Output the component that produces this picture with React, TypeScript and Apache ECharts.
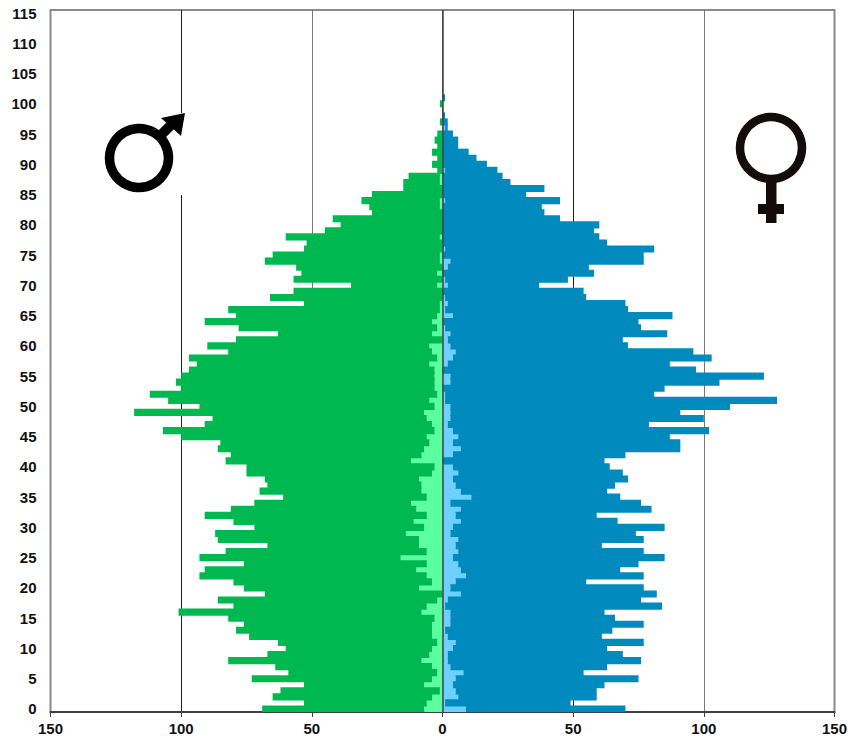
import React, { useEffect, useRef } from "react";
import * as echarts from "echarts";

const ageLabels: string[] = Array.from({ length: 116 }, (_, i) => String(i));
const xTicks = [-150, 150];

const maleTotal = [69,53,65,62,53,73,59,64,82,67,60,63,74,79,76,82,101,80,86,68,76,80,93,91,76,93,83,67,86,87,72,80,91,81,72,61,70,67,68,75,75,83,81,86,85,100,107,91,88,118,93,105,112,100,102,100,97,94,97,82,90,79,63,78,91,79,82,53,66,57,35,57,54,56,68,65,53,52,60,45,39,42,27,28,31,27,15,15,13,2,4,2,4,2,3,2,0,1,0,0,1,0];
const maleForeign = [7,6,4,1,7,4,2,4,8,5,4,2,4,4,4,3,8,6,2,0,9,4,6,10,6,16,6,9,9,14,7,11,6,10,12,6,8,8,9,4,3,12,8,7,5,6,3,4,6,7,3,5,2,3,3,3,3,5,2,4,5,0,4,2,4,2,1,1,0,0,2,0,2,0,1,1,0,0,1,0,0,0,0,1,1,0,0,1,1,0,0,0,0,0,0,0,0,0,0,0,0,0];
const femaleTotal = [70,49,59,59,62,75,54,63,76,69,63,77,61,65,77,66,62,84,76,82,77,55,77,68,75,85,77,61,77,74,85,67,59,80,76,68,63,66,71,69,64,62,70,91,91,87,102,79,100,91,110,128,81,85,106,123,97,87,103,96,71,69,86,76,75,88,71,70,55,54,37,48,58,56,77,77,81,63,60,58,60,45,39,38,45,32,39,26,23,21,17,13,10,6,6,4,2,2,1,0,0,1];
const femaleForeign = [9,1,6,5,4,5,8,3,2,2,4,5,2,1,3,3,3,1,2,7,3,5,9,7,6,4,6,5,6,3,4,7,5,7,3,11,7,5,4,6,4,0,4,7,4,6,4,2,3,3,3,1,1,0,3,3,0,2,4,5,3,2,3,1,0,4,1,2,1,0,2,1,0,2,3,0,1,0,0,0,0,0,0,0,1,0,0,0,0,1,0,0,0,0,0,0,1,0,0,0,0,0];

const DARK_GREEN = "#00B850";
const LIGHT_GREEN = "#5CFFA0";
const DARK_BLUE = "#008ABD";
const LIGHT_BLUE = "#6DD0FF";
const labelFont = { fontFamily: "Liberation Sans", fontWeight: "bold" as const, fontSize: 15, color: "#111" };

export default function App() {
  const ref = useRef<HTMLDivElement>(null);
  useEffect(() => {
    document.body.style.margin = "0";
    const chart = echarts.init(ref.current!, null, { renderer: "svg" });
    const bar = {
      type: "bar" as const,
      stack: "age",
      barWidth: "118%",
      silent: true,
    };
    chart.setOption({
      animation: false,
      backgroundColor: "#fff",
      grid: { left: 50.5, right: 13.5, top: 10, bottom: 30, show: true, borderColor: "#8a8a8a", borderWidth: 2, containLabel: false, outerBoundsMode: "none" },
      xAxis: {
        type: "value",
        min: xTicks[0],
        max: xTicks[1],
        interval: 50,
        axisLine: { show: true, onZero: false, lineStyle: { color: "#404040", width: 2 } },
        axisTick: { show: true, length: 5, lineStyle: { color: "#404040", width: 1 } },
        axisLabel: { ...labelFont, margin: 9, formatter: (v: number) => String(Math.abs(v)) },
        splitLine: { show: true, lineStyle: { color: ["#8a8a8a", "#222", "#777", "#555", "#222", "#777", "#8a8a8a"], width: 1 } },
      },
      yAxis: {
        type: "category",
        data: ageLabels,
        boundaryGap: true,
        axisLine: { show: false },
        axisTick: { show: false },
        axisLabel: { ...labelFont, interval: 4, margin: 14 },
        splitLine: { show: false },
      },
      series: [
        { ...bar, name: "m-foreign", itemStyle: { color: LIGHT_GREEN }, data: maleForeign.map((v) => -v) },
        { ...bar, name: "m-national", itemStyle: { color: DARK_GREEN }, data: maleTotal.map((v, i) => -(v - maleForeign[i])) },
        { ...bar, name: "f-foreign", itemStyle: { color: LIGHT_BLUE }, data: femaleForeign },
        {
          ...bar,
          name: "f-national",
          itemStyle: { color: DARK_BLUE },
          data: femaleTotal.map((v, i) => v - femaleForeign[i]),
          markLine: {
            silent: true,
            symbol: "none",
            label: { show: false },
            lineStyle: { color: "#444", width: 1.5, type: "solid" },
            data: [{ xAxis: 0 }],
          },
        },
      ],
      graphic: [
        { type: "rect", z: 10, shape: { x: 100, y: 113, width: 84, height: 82 }, style: { fill: "#fff" } },
        { type: "circle", z: 11, shape: { cx: 139, cy: 158, r: 29.5 }, style: { fill: "none", stroke: "#000", lineWidth: 9.5 } },
        { type: "line", z: 11, shape: { x1: 158, y1: 138, x2: 175, y2: 121 }, style: { stroke: "#000", lineWidth: 10 } },
        { type: "polygon", z: 11, shape: { points: [[185, 113], [161, 118], [181, 136]] }, style: { fill: "#000" } },
        { type: "circle", z: 11, shape: { cx: 771, cy: 148, r: 31 }, style: { fill: "none", stroke: "#140c0c", lineWidth: 8.5 } },
        { type: "rect", z: 11, shape: { x: 766, y: 180, width: 10.5, height: 43 }, style: { fill: "#140c0c" } },
        { type: "rect", z: 11, shape: { x: 758, y: 204, width: 26, height: 10 }, style: { fill: "#140c0c" } },
      ],
    });
    return () => chart.dispose();
  }, []);
  return <div ref={ref} style={{ position: "absolute", left: 0, top: 0, width: 848, height: 742 }} />;
}
